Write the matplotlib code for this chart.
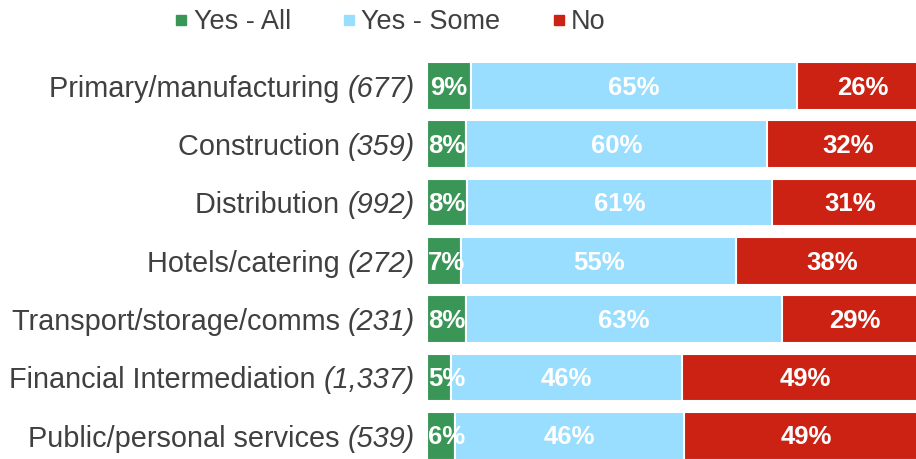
import matplotlib.pyplot as plt
from matplotlib.lines import Line2D

plt.rcParams['font.family'] = ['Liberation Sans', 'DejaVu Sans']

sectors = ['Primary/manufacturing', 'Construction', 'Distribution', 'Hotels/catering',
           'Transport/storage/comms', 'Financial Intermediation', 'Public/personal services']
bases = ['(677)', '(359)', '(992)', '(272)', '(231)', '(1,337)', '(539)']
# shares in % (labels show them rounded)
yes_all = [8.8, 7.8, 8.0, 6.8, 7.8, 4.8, 5.6]
yes_some = [64.9, 60.0, 60.8, 54.8, 62.9, 46.0, 45.6]
no = [26.3, 32.2, 31.2, 38.4, 29.3, 49.2, 48.8]

series = [('Yes - All', yes_all, '#3a9657'),
          ('Yes - Some', yes_some, '#99ddff'),
          ('No', no, '#cc2214')]

text_col = '#404040'

fig = plt.figure(figsize=(9.16, 4.59), dpi=100)
# the chart is cut off on the right, so the 100% end lies past the figure edge
ax = fig.add_axes([0.466, 0.0, 0.548, 0.891])

ypos = list(range(len(sectors)))
left = [0] * len(sectors)
for name, vals, col in series:
    ax.barh(ypos, vals, left=left, height=0.82, color=col, edgecolor='white', linewidth=1.5)
    for y, l, v in zip(ypos, left, vals):
        x, ha = l + v / 2, 'center'
        if x < 3.9:  # keep narrow labels inside the plot area
            x, ha = 0.2, 'left'
        ax.text(x, y + 0.03, f'{v:.0f}%', ha=ha, va='center', color='white',
                fontsize=18.5, fontweight='bold')
    left = [a + b for a, b in zip(left, vals)]

ax.set_xlim(0, 100)
ax.set_ylim(6.40, -0.617)
ax.axis('off')

# category labels: name in regular, base size in italics
for y, s, b in zip(ypos, sectors, bases):
    t = ax.text(-2.4, y + 0.05, b, ha='right', va='center', fontsize=20.8, style='italic',
                color=text_col)
    ax.annotate(s + ' ', xy=(0, 0.5), xycoords=t, ha='right', va='center',
                fontsize=20.8, color=text_col, annotation_clip=False)

handles = [Line2D([], [], marker='s', linestyle='none', markersize=7.5,
                  markerfacecolor=c, markeredgecolor=c) for _, _, c in series]
fig.legend(handles, [n for n, _, _ in series], loc='center', bbox_to_anchor=(0.425, 0.952),
           ncol=3, frameon=False, fontsize=19.5, handletextpad=0.15, columnspacing=1.85,
           handlelength=0.6, labelcolor=text_col)

fig.savefig('out.png', dpi=100)
